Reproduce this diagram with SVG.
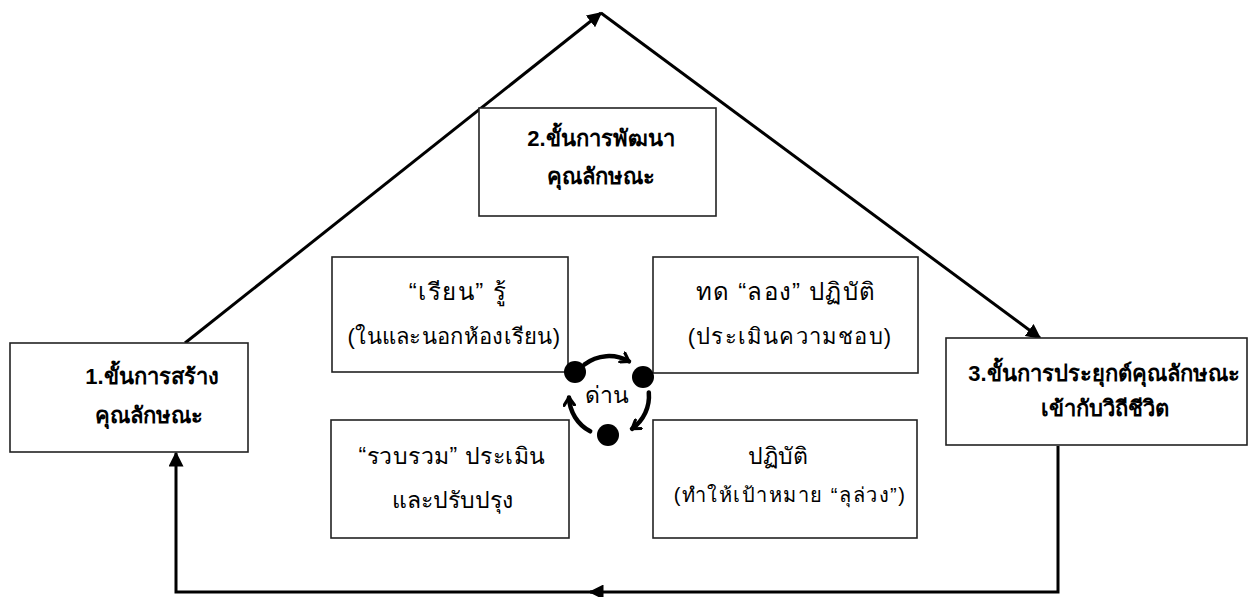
<svg xmlns="http://www.w3.org/2000/svg" width="1254" height="597" viewBox="0 0 1254 597">
<defs>
<style>
.box{fill:#fff;stroke:#222;stroke-width:1.6}
.conn{fill:none;stroke:#000;stroke-width:3}
.cyc{fill:none;stroke:#000;stroke-width:4.5;stroke-linecap:round}
.t{font-family:"Liberation Sans","Noto Sans",sans-serif;fill:#000;text-anchor:middle}
.tb{font-weight:bold;font-size:22px}
.ti{font-weight:300}
</style>
<marker id="tri" viewBox="0 0 10 10" refX="9" refY="5" markerUnits="userSpaceOnUse" markerWidth="15" markerHeight="15" orient="auto">
<path d="M0,0 L10,5 L0,10 z" fill="#000"/>
</marker>
<marker id="chev" viewBox="0 0 10 10" refX="7" refY="5" markerUnits="userSpaceOnUse" markerWidth="13" markerHeight="13" orient="auto">
<path d="M1,1 L7,5 L1,9" fill="none" stroke="#000" stroke-width="2.4" stroke-linecap="round" stroke-linejoin="round"/>
</marker>
</defs>
<rect width="1254" height="597" fill="#fff"/>

<g id="connectors">
<path class="conn" d="M185,343 L601,13" marker-end="url(#tri)"/>
<path class="conn" d="M601,13 L1040,338" marker-end="url(#tri)"/>
<path class="conn" d="M1058,446 V592 H590" marker-end="url(#tri)"/>
<path class="conn" d="M592,592 H176 V453" marker-end="url(#tri)"/>
</g>

<g id="node1">
<rect class="box" x="10" y="343" width="238" height="109"/>
<text class="t tb" x="152" y="384">1.ขั้นการสร้าง</text>
<text class="t tb" x="149" y="423">คุณลักษณะ</text>
</g>

<g id="node2">
<rect class="box" x="479" y="108" width="237" height="108"/>
<text class="t tb" x="601" y="146">2.ขั้นการพัฒนา</text>
<text class="t tb" x="601" y="184">คุณลักษณะ</text>
</g>

<g id="node3">
<rect class="box" x="946" y="338" width="301" height="107"/>
<text class="t tb" x="1104" y="381">3.ขั้นการประยุกต์คุณลักษณะ</text>
<text class="t tb" x="1105" y="416">เข้ากับวิถีชีวิต</text>
</g>

<g id="learn">
<rect class="box" x="332" y="257" width="236" height="115"/>
<text class="t ti" style="font-size:24px;letter-spacing:1.5px" x="458" y="300">“เรียน” รู้</text>
<text class="t ti" style="font-size:22px;letter-spacing:0.3px" x="454" y="344">(ในและนอกห้องเรียน)</text>
</g>

<g id="try">
<rect class="box" x="653" y="257" width="265" height="116"/>
<text class="t ti" style="font-size:24px;letter-spacing:1.2px" x="786" y="300">ทด “ลอง” ปฏิบัติ</text>
<text class="t ti" style="font-size:22px;letter-spacing:1.2px" x="790" y="344">(ประเมินความชอบ)</text>
</g>

<g id="collect">
<rect class="box" x="331" y="420" width="238" height="118"/>
<text class="t ti" style="font-size:23px;letter-spacing:0.5px" x="452" y="464">“รวบรวม” ประเมิน</text>
<text class="t ti" style="font-size:23px" x="452" y="508">และปรับปรุง</text>
</g>

<g id="practice">
<rect class="box" x="653" y="420" width="264" height="118"/>
<text class="t ti" style="font-size:23px" x="778" y="464">ปฏิบัติ</text>
<text class="t ti" style="font-size:20px;letter-spacing:1.5px" x="790" y="502">(ทำให้เป้าหมาย “ลุล่วง”)</text>
</g>

<g id="cycle">
<path class="cyc" d="M584.4,364.5 A40,40 0 0 1 629,361.4" marker-end="url(#chev)"/>
<path class="cyc" d="M648.8,392.5 A40,40 0 0 1 632,428.8" marker-end="url(#chev)"/>
<path class="cyc" d="M590.2,431.3 A40,40 0 0 1 569,397.4" marker-end="url(#chev)"/>
<circle cx="575" cy="372" r="11" fill="#000"/>
<circle cx="643" cy="377" r="11" fill="#000"/>
<circle cx="608" cy="435" r="11" fill="#000"/>
<text class="t ti" style="font-size:23px" x="607" y="403">ด่าน</text>
</g>
</svg>
